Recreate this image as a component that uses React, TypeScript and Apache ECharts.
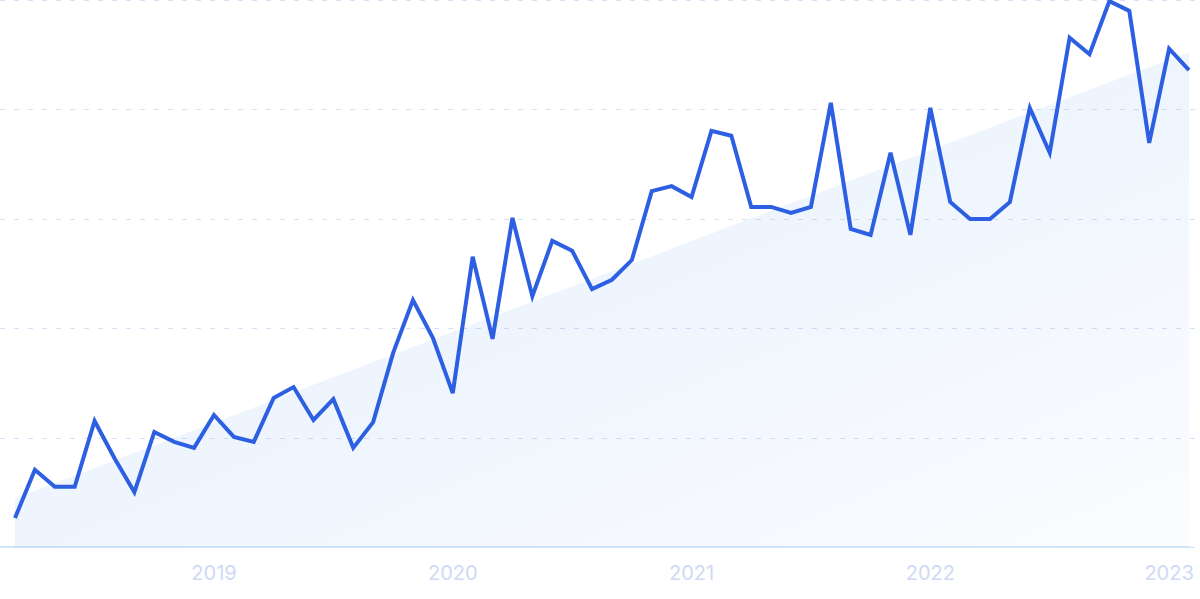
import React, { useEffect, useRef } from "react";
import * as echarts from "echarts";

const months: string[] = [
  "2018-03", "2018-04", "2018-05", "2018-06", "2018-07", "2018-08", "2018-09", "2018-10", "2018-11", "2018-12",
  "2019-01", "2019-02", "2019-03", "2019-04", "2019-05", "2019-06", "2019-07", "2019-08", "2019-09", "2019-10", "2019-11", "2019-12",
  "2020-01", "2020-02", "2020-03", "2020-04", "2020-05", "2020-06", "2020-07", "2020-08", "2020-09", "2020-10", "2020-11", "2020-12",
  "2021-01", "2021-02", "2021-03", "2021-04", "2021-05", "2021-06", "2021-07", "2021-08", "2021-09", "2021-10", "2021-11", "2021-12",
  "2022-01", "2022-02", "2022-03", "2022-04", "2022-05", "2022-06", "2022-07", "2022-08", "2022-09", "2022-10", "2022-11", "2022-12",
  "2023-01", "2023-02",
];

const interest: number[] = [
  5.4, 14.2, 11.1, 11.1, 23.1, 16.3, 10.1, 21.1, 19.3, 18.2,
  24.2, 20.2, 19.3, 27.3, 29.3, 23.3, 27.1, 18.2, 22.9, 35.5, 45.2, 38.3,
  28.2, 53.1, 38.1, 60.2, 45.9, 56.0, 54.2, 47.2, 48.9, 52.5, 65.1, 66.0,
  64.0, 76.1, 75.2, 62.2, 62.2, 61.1, 62.2, 81.2, 58.2, 57.1, 72.1, 57.1,
  80.3, 63.1, 60.0, 60.0, 63.1, 80.3, 72.1, 93.1, 90.1, 99.8, 98.0, 73.9,
  91.1, 87.2,
];

const trendStart = 9.0;
const trendEnd = 90.5;

export default function App() {
  const ref = useRef<HTMLDivElement>(null);
  useEffect(() => {
    if (!ref.current) return;
    const chart = echarts.init(ref.current, undefined, { renderer: "svg" });
    const hiddenX = {
      type: "value",
      min: 0,
      max: 1,
      axisLabel: { show: false },
      axisTick: { show: false },
      splitLine: { show: false },
    };
    chart.setOption({
      animation: false,
      grid: [
        { left: 15, right: 11, top: 0, bottom: 51.5 },
        { left: 0, right: 0, top: 0, bottom: 51.5 },
        { left: 0, right: 10, top: 0, bottom: 52.5 },
      ],
      xAxis: [
        {
          type: "category",
          gridIndex: 0,
          data: months,
          boundaryGap: false,
          axisLine: { show: false },
          axisTick: { show: false },
          splitLine: { show: false },
          axisLabel: {
            interval: (_idx: number, val: string) => val.endsWith("-01"),
            formatter: (val: string) => val.slice(0, 4),
            color: "#d0d9f5",
            fontSize: 20,
            fontFamily: "Inter",
            margin: 15,
          },
        },
        { ...hiddenX, gridIndex: 1, axisLine: { show: false } },
        {
          ...hiddenX,
          gridIndex: 2,
          axisLine: { show: true, lineStyle: { color: "#d3e5fb", width: 2 } },
        },
      ],
      yAxis: [
        {
          type: "value",
          gridIndex: 0,
          min: 0,
          max: 100,
          interval: 20,
          axisLabel: { show: false },
          axisLine: { show: false },
          axisTick: { show: false },
          splitLine: { show: false },
        },
        {
          type: "value",
          gridIndex: 1,
          min: 0,
          max: 100,
          interval: 20,
          axisLabel: { show: false },
          axisLine: { show: false },
          axisTick: { show: false },
          splitLine: {
            show: true,
            lineStyle: { color: "#d5dff8", width: 1, type: [5, 9] },
          },
        },
        {
          type: "value",
          gridIndex: 2,
          min: 0,
          max: 100,
          show: false,
        },
      ],
      series: [
        {
          type: "line",
          xAxisIndex: 0,
          yAxisIndex: 0,
          data: [
            [0, trendStart],
            [months.length - 1, trendEnd],
          ],
          symbol: "none",
          silent: true,
          z: 1,
          lineStyle: { width: 0 },
          areaStyle: {
            origin: "start",
            color: new echarts.graphic.LinearGradient(0, 0, 1, 1, [
              { offset: 0, color: "rgba(100,160,240,0.23)" },
              { offset: 0.5, color: "rgba(100,160,240,0.15)" },
              { offset: 1, color: "rgba(100,160,240,0.04)" },
            ]),
          },
        },
        {
          type: "line",
          xAxisIndex: 0,
          yAxisIndex: 0,
          data: interest,
          symbol: "none",
          z: 3,
          lineStyle: { color: "#2d5fe2", width: 4, join: "miter" },
        },
      ],
    });
    return () => chart.dispose();
  }, []);
  return (
    <div
      ref={ref}
      style={{ position: "fixed", left: 0, top: 0, width: 1200, height: 599, background: "#fff" }}
    />
  );
}
